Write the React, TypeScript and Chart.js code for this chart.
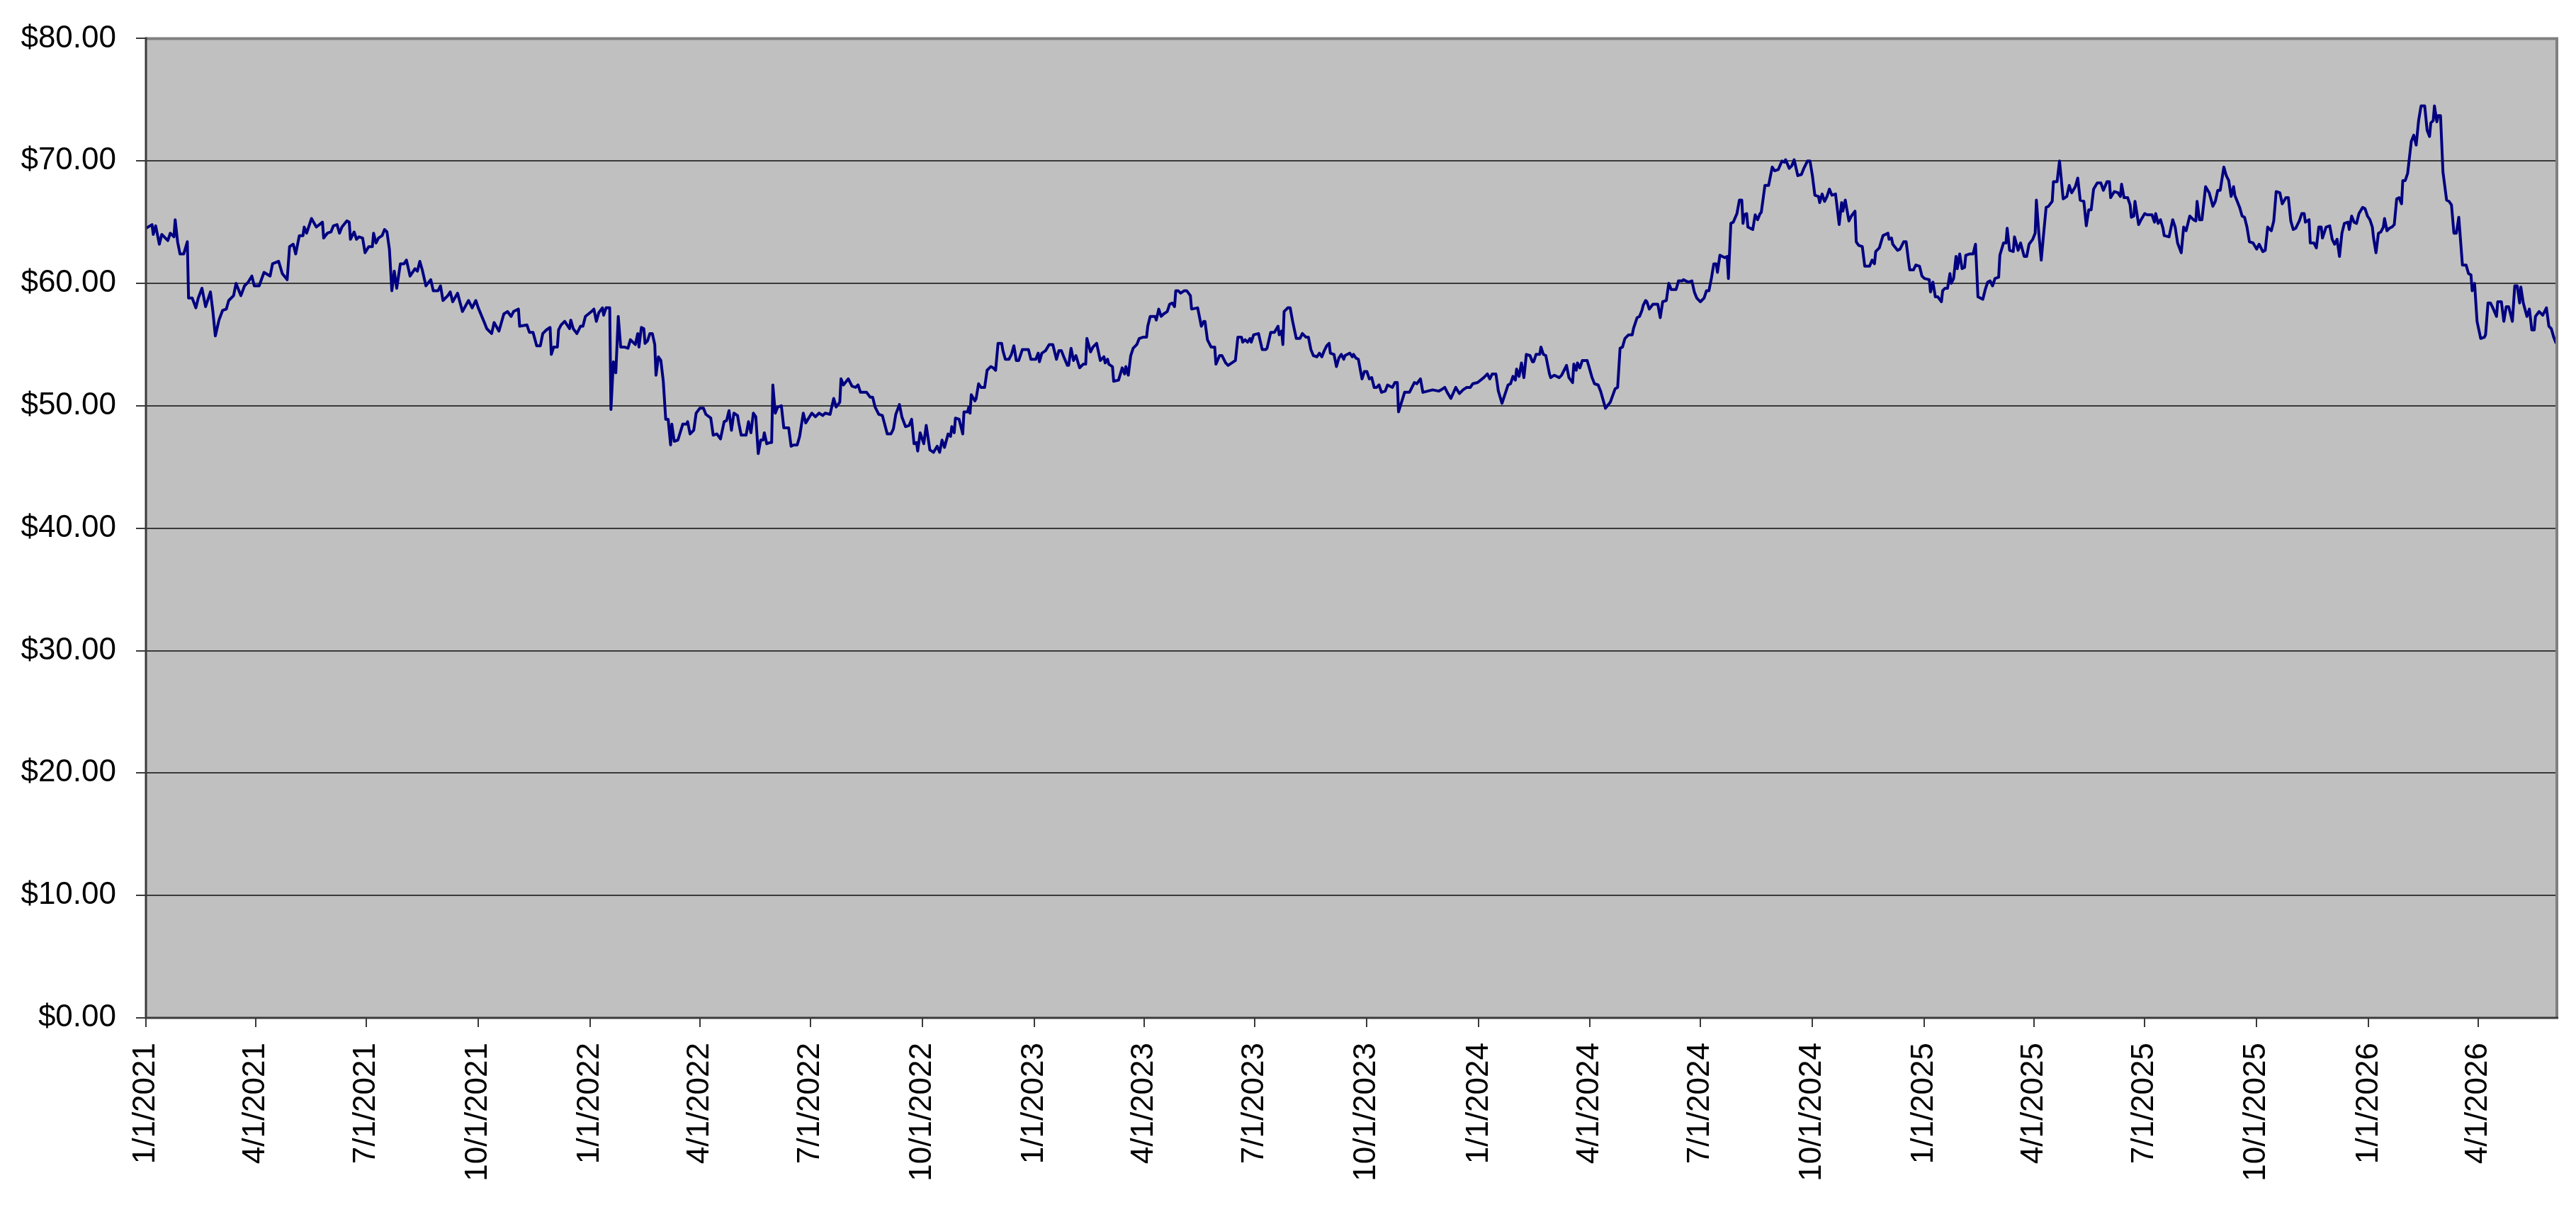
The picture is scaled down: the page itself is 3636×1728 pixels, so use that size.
import { useEffect, useRef } from "react";
import Chart from "chart.js/auto";

// x values are calendar days counted from 1/1/2021, y values are closing prices
const startDate = "1/1/2021";

const tickLabels = [
  "1/1/2021", "4/1/2021", "7/1/2021", "10/1/2021",
  "1/1/2022", "4/1/2022", "7/1/2022", "10/1/2022",
  "1/1/2023", "4/1/2023", "7/1/2023", "10/1/2023",
  "1/1/2024", "4/1/2024", "7/1/2024", "10/1/2024",
  "1/1/2025", "4/1/2025", "7/1/2025", "10/1/2025",
  "1/1/2026", "4/1/2026",
];

const lastDay = 1980;

const quotes2021: [number, number][] = [
  [0, 64.5], [5, 64.8], [6, 64.0], [8, 64.7], [11, 63.2], [13, 64.0], [18, 63.5], [20, 64.1],
  [23, 63.8], [24, 65.2], [26, 63.4], [28, 62.4], [31, 62.4], [34, 63.4], [35, 58.8], [38, 58.8],
  [41, 58.0], [43, 58.8], [46, 59.6], [49, 58.1], [53, 59.3], [55, 57.7], [57, 55.7], [60, 57.0],
  [63, 57.8], [66, 57.9], [68, 58.6], [72, 59.0], [74, 60.0], [78, 59.0], [81, 59.8], [84, 60.1],
  [87, 60.6], [89, 59.8], [93, 59.8], [97, 60.9], [102, 60.6], [104, 61.6], [109, 61.8], [112, 60.8],
  [116, 60.3], [118, 63.0], [121, 63.2], [123, 62.4], [126, 63.9], [129, 63.9], [130, 64.6], [132, 64.1],
  [134, 64.7], [136, 65.3], [140, 64.6], [145, 65.0], [146, 63.7], [149, 64.1], [152, 64.2], [154, 64.7],
  [157, 64.8], [159, 64.1], [161, 64.6], [165, 65.1], [167, 65.0], [168, 63.6], [171, 64.2], [173, 63.6],
  [175, 63.8], [178, 63.7], [180, 62.5], [183, 63.0], [186, 63.0], [187, 64.1], [189, 63.3], [191, 63.7],
  [194, 63.9], [196, 64.4], [198, 64.2], [200, 62.8], [202, 59.4], [204, 61.0], [206, 59.6], [209, 61.6],
  [212, 61.6], [214, 61.9], [217, 60.6], [221, 61.2], [223, 61.0], [225, 61.8], [227, 61.1], [230, 59.8],
  [234, 60.3], [236, 59.4], [240, 59.4], [242, 59.8], [244, 58.6], [248, 59.0], [250, 59.3], [252, 58.5],
  [256, 59.2], [260, 57.7], [265, 58.6], [268, 58.0], [271, 58.6], [273, 58.0], [278, 56.8], [280, 56.3],
  [284, 55.9], [286, 56.8], [290, 56.1], [294, 57.5], [297, 57.7], [300, 57.3], [302, 57.7], [306, 57.9],
  [307, 56.5], [313, 56.6], [315, 56.0], [318, 56.0], [321, 54.9], [324, 54.9], [326, 55.9], [329, 56.2],
  [332, 56.4], [333, 54.2], [335, 54.8], [338, 54.8], [339, 56.2], [341, 56.6], [344, 56.9], [348, 56.3],
  [349, 57.0], [351, 56.3], [354, 55.9], [357, 56.5], [359, 56.5], [361, 57.3],
];

const quotes2022: [number, number][] = [
  [366, 57.7], [368, 57.9], [370, 56.9], [372, 57.6], [375, 58.0], [376, 57.4], [378, 58.0], [381, 58.0],
  [382, 49.7], [384, 53.6], [386, 52.7], [388, 57.3], [390, 54.8], [393, 54.8], [396, 54.7], [398, 55.4],
  [402, 55.0], [404, 55.9], [405, 54.8], [407, 56.4], [409, 56.3], [410, 55.1], [412, 55.3], [414, 55.9],
  [416, 55.9], [418, 55.0], [419, 52.5], [421, 54.0], [423, 53.7], [425, 52.0], [427, 48.9], [429, 48.9],
  [431, 46.8], [432, 48.5], [434, 47.1], [437, 47.2], [441, 48.5], [444, 48.5], [445, 48.7], [447, 47.7],
  [450, 48.0], [452, 49.4], [455, 49.8], [458, 49.8], [460, 49.3], [464, 49.0], [466, 47.6], [469, 47.7],
  [472, 47.3], [475, 48.7], [477, 48.8], [479, 49.6], [481, 48.0], [483, 49.4], [486, 49.2], [487, 48.6],
  [489, 47.6], [493, 47.6], [495, 48.7], [497, 47.8], [499, 49.4], [501, 49.1], [503, 46.1], [505, 47.2],
  [507, 47.2], [508, 47.8], [510, 46.9], [513, 47.0], [514, 47.0], [515, 51.7], [517, 49.4], [519, 49.9],
  [522, 50.0], [524, 48.2], [528, 48.2], [530, 46.7], [532, 46.8], [535, 46.8], [537, 47.5], [540, 49.4],
  [542, 48.6], [547, 49.4], [550, 49.1], [553, 49.4], [556, 49.2], [558, 49.4], [562, 49.3], [565, 50.6],
  [567, 49.9], [570, 50.3], [571, 52.2], [573, 51.7], [577, 52.2], [580, 51.6], [583, 51.5], [585, 51.7],
  [587, 51.1], [592, 51.1], [595, 50.7], [597, 50.7], [599, 49.9], [602, 49.3], [605, 49.2], [609, 47.7],
  [612, 47.7], [614, 48.1], [616, 49.3], [619, 50.1], [621, 49.1], [624, 48.3], [627, 48.4], [629, 48.9],
  [631, 46.9], [633, 47.0], [634, 46.3], [636, 47.8], [639, 46.9], [641, 48.4], [644, 46.4], [647, 46.2],
  [650, 46.7], [652, 46.2], [654, 47.2], [656, 46.6], [659, 47.7], [661, 47.5], [662, 48.3], [664, 47.8],
  [665, 49.0], [668, 48.9], [671, 47.7], [672, 49.5], [675, 49.5], [676, 49.9], [677, 49.4], [678, 50.9],
  [681, 50.4], [682, 50.6], [684, 51.8], [686, 51.5], [689, 51.5], [691, 52.9], [694, 53.2], [696, 53.1],
  [698, 52.9], [700, 55.1], [703, 55.1], [704, 54.5], [706, 53.8], [709, 53.8], [711, 54.2], [713, 54.9],
  [715, 53.7], [717, 53.7], [720, 54.6], [722, 54.6], [725, 54.6], [727, 53.8],
];

const quotes2023: [number, number][] = [
  [731, 53.8], [733, 54.3], [734, 53.6], [736, 54.3], [739, 54.5], [742, 55.0], [745, 55.0], [748, 53.8],
  [750, 54.5], [752, 54.5], [754, 54.0], [757, 53.3], [758, 53.3], [760, 54.7], [762, 53.7], [764, 54.1],
  [767, 53.1], [770, 53.4], [772, 53.4], [773, 55.5], [776, 54.4], [778, 54.8], [781, 55.1], [784, 53.7],
  [787, 54.0], [788, 53.5], [790, 53.8], [791, 53.4], [794, 53.2], [795, 52.0], [799, 52.1], [802, 53.1],
  [804, 52.6], [805, 53.2], [807, 52.5], [809, 54.1], [811, 54.7], [814, 55.0], [816, 55.5], [819, 55.6],
  [822, 55.6], [823, 56.5], [825, 57.3], [829, 57.3], [830, 57.0], [832, 57.9], [834, 57.3], [836, 57.5],
  [839, 57.7], [841, 58.3], [843, 58.4], [845, 58.1], [846, 59.4], [848, 59.4], [850, 59.2], [853, 59.4],
  [855, 59.4], [858, 59.0], [859, 57.9], [864, 58.0], [867, 56.5], [869, 56.9], [870, 56.9], [872, 55.4],
  [875, 54.8], [878, 54.8], [879, 53.4], [882, 54.1], [884, 54.1], [887, 53.5], [889, 53.3], [892, 53.5],
  [895, 53.7], [897, 55.6], [900, 55.6], [901, 55.2], [903, 55.4], [905, 55.2], [907, 55.5], [908, 55.2],
  [910, 55.8], [914, 55.9], [917, 54.6], [920, 54.6], [921, 54.7], [924, 56.0], [927, 56.0], [930, 56.5],
  [931, 55.8], [933, 56.1], [934, 55.0], [935, 57.7], [938, 58.0], [940, 58.0], [942, 56.9], [945, 55.5],
  [948, 55.5], [950, 55.9], [953, 55.6], [955, 55.6], [957, 54.6], [959, 54.1], [962, 54.0], [964, 54.3],
  [966, 54.0], [968, 54.5], [970, 54.9], [972, 55.1], [973, 54.3], [976, 54.2], [978, 53.2], [980, 53.9],
  [982, 54.2], [984, 53.8], [985, 54.1], [989, 54.3], [991, 54.0], [992, 54.2], [994, 53.9], [996, 53.8],
  [999, 52.2], [1001, 52.8], [1003, 52.8], [1005, 52.2], [1007, 52.3], [1009, 51.5], [1011, 51.5], [1013, 51.7],
  [1015, 51.1], [1018, 51.2], [1020, 51.7], [1024, 51.5], [1026, 51.9], [1028, 51.9], [1029, 49.5], [1034, 51.1],
  [1038, 51.1], [1042, 51.9], [1044, 51.8], [1047, 52.2], [1049, 51.1], [1053, 51.2], [1057, 51.3], [1062, 51.2],
  [1064, 51.3], [1067, 51.5], [1069, 51.1], [1072, 50.6], [1076, 51.5], [1079, 51.0], [1082, 51.3], [1085, 51.5],
  [1088, 51.5], [1090, 51.8], [1094, 51.9],
];

const quotes2024: [number, number][] = [
  [1099, 52.3], [1102, 52.6], [1104, 52.2], [1106, 52.6], [1109, 52.6], [1111, 51.2], [1114, 50.2], [1119, 51.7],
  [1121, 51.8], [1123, 52.4], [1125, 52.1], [1126, 53.0], [1128, 52.4], [1130, 53.5], [1132, 52.3], [1134, 54.2],
  [1137, 54.1], [1139, 53.6], [1140, 53.6], [1142, 54.2], [1145, 54.2], [1146, 54.8], [1148, 54.2], [1150, 54.1],
  [1153, 52.6], [1154, 52.3], [1157, 52.5], [1161, 52.3], [1163, 52.5], [1165, 52.9], [1167, 53.3], [1169, 52.3],
  [1172, 51.9], [1173, 53.4], [1175, 52.9], [1176, 53.5], [1178, 53.1], [1180, 53.7], [1184, 53.7], [1188, 52.3],
  [1190, 51.8], [1193, 51.7], [1195, 51.2], [1199, 49.8], [1203, 50.3], [1207, 51.4], [1209, 51.5], [1211, 54.7],
  [1213, 54.8], [1215, 55.5], [1218, 55.8], [1221, 55.8], [1222, 56.3], [1225, 57.2], [1227, 57.3], [1229, 57.8],
  [1230, 58.2], [1232, 58.6], [1233, 58.5], [1235, 57.9], [1238, 58.3], [1242, 58.3], [1244, 57.2], [1246, 58.5],
  [1249, 58.6], [1251, 60.0], [1253, 59.5], [1257, 59.5], [1259, 60.2], [1262, 60.2], [1263, 60.3], [1267, 60.1],
  [1270, 60.2], [1272, 59.3], [1274, 58.8], [1277, 58.5], [1280, 58.8], [1282, 59.4], [1284, 59.4], [1286, 60.4],
  [1288, 61.6], [1290, 61.6], [1291, 60.9], [1293, 62.3], [1297, 62.1], [1299, 62.2], [1300, 60.4], [1302, 64.9],
  [1304, 65.0], [1307, 65.7], [1309, 66.8], [1311, 66.8], [1312, 64.9], [1313, 65.6], [1315, 65.7], [1316, 64.6],
  [1320, 64.4], [1322, 65.6], [1324, 65.2], [1326, 65.7], [1327, 65.8], [1330, 68.0], [1333, 68.0], [1336, 69.5],
  [1338, 69.2], [1341, 69.3], [1344, 70.0], [1346, 69.9], [1347, 70.1], [1350, 69.4], [1352, 69.6], [1354, 70.1],
  [1357, 68.8], [1360, 68.9], [1362, 69.4], [1365, 70.0], [1367, 70.0], [1369, 68.8], [1371, 67.2], [1374, 67.1],
  [1375, 66.6], [1377, 67.3], [1379, 66.7], [1381, 67.1], [1383, 67.7], [1385, 67.2], [1388, 67.3], [1391, 64.8],
  [1393, 66.6], [1394, 65.9], [1396, 66.8], [1399, 65.1], [1401, 65.5], [1404, 65.9], [1405, 63.4], [1407, 63.1],
  [1410, 63.0], [1412, 61.4], [1416, 61.4], [1418, 61.9], [1420, 61.6], [1421, 62.6], [1424, 62.9], [1427, 63.9],
  [1431, 64.1], [1432, 63.6], [1434, 63.7], [1435, 63.2], [1439, 62.7], [1441, 62.8], [1444, 63.4], [1446, 63.4],
  [1448, 61.8], [1449, 61.1], [1452, 61.1], [1454, 61.5], [1457, 61.4], [1459, 60.6],
];

const quotes2025: [number, number][] = [
  [1461, 60.4], [1465, 60.3], [1466, 59.3], [1468, 60.1], [1470, 58.9], [1472, 58.9], [1475, 58.5], [1476, 59.4],
  [1478, 59.6], [1480, 59.6], [1482, 60.8], [1483, 60.0], [1485, 60.4], [1487, 62.2], [1488, 61.2], [1490, 62.4],
  [1492, 61.2], [1494, 61.3], [1495, 62.3], [1498, 62.4], [1501, 62.4], [1503, 63.2], [1505, 58.9], [1509, 58.7],
  [1511, 59.5], [1513, 60.1], [1515, 60.2], [1517, 59.8], [1519, 60.4], [1522, 60.5], [1523, 62.3], [1526, 63.3],
  [1528, 63.3], [1529, 64.5], [1531, 62.7], [1534, 62.6], [1535, 63.8], [1538, 62.7], [1540, 63.3], [1543, 62.2],
  [1545, 62.2], [1547, 63.2], [1550, 63.6], [1552, 64.1], [1553, 66.8], [1555, 64.1], [1557, 61.9], [1559, 64.1],
  [1561, 66.2], [1563, 66.3], [1566, 66.7], [1567, 68.3], [1570, 68.3], [1572, 70.0], [1575, 66.9], [1578, 67.1],
  [1580, 68.0], [1582, 67.4], [1585, 67.9], [1587, 68.6], [1589, 66.8], [1592, 66.7], [1594, 64.7], [1596, 66.0],
  [1598, 66.0], [1600, 67.7], [1603, 68.2], [1606, 68.2], [1608, 67.6], [1611, 68.3], [1613, 68.3], [1614, 67.0],
  [1617, 67.5], [1620, 67.4], [1622, 67.1], [1623, 68.1], [1625, 67.0], [1628, 67.0], [1630, 66.4], [1631, 65.4],
  [1633, 65.5], [1634, 66.7], [1637, 64.8], [1639, 65.2], [1642, 65.7], [1644, 65.6], [1648, 65.6], [1650, 65.0],
  [1651, 65.7], [1653, 64.9], [1655, 65.2], [1657, 64.5], [1658, 63.9], [1662, 63.8], [1665, 65.2], [1667, 64.6],
  [1669, 63.3], [1672, 62.5], [1674, 64.6], [1676, 64.3], [1679, 65.5], [1682, 65.2], [1684, 65.1], [1685, 66.7],
  [1687, 65.2], [1689, 65.2], [1692, 67.9], [1695, 67.4], [1698, 66.3], [1700, 66.7], [1702, 67.6], [1704, 67.6],
  [1707, 69.5], [1709, 68.8], [1711, 68.4], [1713, 67.1], [1715, 67.9], [1716, 67.2], [1718, 66.7], [1720, 66.2],
  [1722, 65.5], [1724, 65.4], [1726, 64.6], [1728, 63.4], [1731, 63.3], [1734, 62.8], [1736, 63.2], [1739, 62.6],
  [1741, 62.7], [1743, 64.6], [1746, 64.3], [1748, 65.1], [1750, 67.5], [1753, 67.4], [1755, 66.5], [1758, 67.0],
  [1760, 67.0], [1762, 65.1], [1764, 64.4], [1766, 64.5], [1769, 65.1], [1771, 65.7], [1773, 65.7], [1774, 65.0],
  [1777, 65.2], [1778, 63.3], [1781, 63.3], [1783, 62.9], [1785, 64.6], [1787, 64.6], [1788, 63.7], [1791, 64.6],
  [1794, 64.7], [1796, 63.6], [1798, 63.2], [1800, 63.6], [1802, 62.2], [1804, 64.1], [1806, 64.9], [1809, 65.0],
  [1810, 64.4], [1812, 65.5], [1814, 65.0], [1816, 64.9], [1818, 65.7], [1821, 66.2], [1823, 66.1], [1825, 65.5],
];

const quotes2026: [number, number][] = [
  [1827, 65.2], [1829, 64.6], [1830, 63.7], [1832, 62.5], [1834, 64.1], [1836, 64.2], [1838, 64.6], [1839, 65.3],
  [1841, 64.3], [1843, 64.5], [1845, 64.6], [1847, 64.8], [1849, 66.9], [1851, 67.0], [1853, 66.5], [1854, 68.4],
  [1856, 68.4], [1858, 69.0], [1861, 71.6], [1863, 72.1], [1865, 71.3], [1867, 73.3], [1869, 74.5], [1872, 74.5],
  [1874, 72.5], [1876, 72.0], [1877, 73.1], [1879, 73.3], [1880, 74.5], [1882, 73.2], [1883, 73.7], [1885, 73.7],
  [1887, 69.1], [1890, 66.8], [1892, 66.7], [1894, 66.4], [1896, 64.1], [1898, 64.1], [1900, 65.4], [1903, 61.5],
  [1906, 61.5], [1908, 60.8], [1910, 60.7], [1911, 59.4], [1913, 60.0], [1915, 56.9], [1918, 55.5], [1921, 55.6],
  [1922, 55.8], [1924, 58.4], [1926, 58.4], [1928, 58.0], [1931, 57.3], [1932, 58.5], [1935, 58.5], [1937, 56.9],
  [1939, 58.1], [1941, 58.1], [1944, 56.9], [1946, 59.8], [1948, 59.8], [1950, 58.4], [1951, 59.7], [1953, 58.4],
  [1956, 57.3], [1958, 57.9], [1960, 56.2], [1962, 56.2], [1963, 57.3], [1966, 57.7], [1969, 57.4], [1972, 58.0],
  [1974, 56.5], [1976, 56.3], [1978, 55.6], [1980, 55.1],
];

const dayOf = (label: string) => {
  const [m, d, y] = label.split("/").map(Number);
  const [m0, d0, y0] = startDate.split("/").map(Number);
  return Math.round((Date.UTC(y, m - 1, d) - Date.UTC(y0, m0 - 1, d0)) / 86400000);
};

const tickDays = tickLabels.map(dayOf);

const plotFrame = {
  id: "plotFrame",
  beforeDraw(chart: any) {
    const { ctx, chartArea: a } = chart;
    ctx.save();
    ctx.fillStyle = "#c0c0c0";
    ctx.fillRect(a.left, a.top, a.right - a.left, a.bottom - a.top);
    ctx.restore();
  },
  afterDraw(chart: any) {
    const { ctx, chartArea: a } = chart;
    ctx.save();
    ctx.strokeStyle = "#808080";
    ctx.lineWidth = 4;
    ctx.beginPath();
    ctx.moveTo(a.left, a.top);
    ctx.lineTo(a.right + 1, a.top);
    ctx.lineTo(a.right + 1, a.bottom);
    ctx.stroke();
    ctx.strokeStyle = "#3a3a3a";
    ctx.lineWidth = 3;
    ctx.beginPath();
    ctx.moveTo(a.left, a.top - 2);
    ctx.lineTo(a.left, a.bottom);
    ctx.lineTo(a.right + 3, a.bottom);
    ctx.stroke();
    ctx.restore();
  },
};

const PriceChart = () => {
  const canvasRef = useRef<HTMLCanvasElement | null>(null);

  useEffect(() => {
    const points = [quotes2021, quotes2022, quotes2023, quotes2024, quotes2025, quotes2026]
      .flat()
      .map(([x, y]) => ({ x, y }));

    const font = { family: "'Liberation Sans', Arial, sans-serif", size: 44 };

    const chart = new Chart(canvasRef.current!, {
      type: "line",
      data: {
        datasets: [{
          data: points,
          borderColor: "#000080",
          borderWidth: 4,
          borderJoinStyle: "round",
          pointRadius: 0,
          tension: 0,
          fill: false,
        }],
      },
      options: {
        animation: false,
        responsive: true,
        maintainAspectRatio: false,
        layout: { padding: { top: 44, right: 28, left: 0, bottom: 0 } },
        plugins: { legend: { display: false }, tooltip: { enabled: false } },
        scales: {
          x: {
            type: "linear",
            min: 0,
            max: lastDay,
            afterBuildTicks: (scale: any) => {
              scale.ticks = tickDays.map((value) => ({ value }));
            },
            afterFit: (scale: any) => { scale.height = 291; },
            grid: {
              drawOnChartArea: false,
              drawTicks: true,
              tickLength: 13,
              color: "#3a3a3a",
              lineWidth: 2,
            },
            border: { display: false },
            ticks: {
              autoSkip: false,
              minRotation: 90,
              maxRotation: 90,
              padding: 22,
              color: "#000000",
              font,
              callback: (_v: any, i: number) => tickLabels[i],
            },
          },
          y: {
            min: 0,
            max: 80,
            afterFit: (scale: any) => { scale.width = 206; },
            grid: {
              color: "#3a3a3a",
              lineWidth: 2,
              tickLength: 14,
            },
            border: { display: false },
            ticks: {
              stepSize: 10,
              padding: 28,
              color: "#000000",
              font,
              callback: (v: any) => "$" + Number(v).toFixed(2),
            },
          },
        },
      },
      plugins: [plotFrame],
    });

    return () => chart.destroy();
  }, []);

  return (
    <div style={{ position: "absolute", left: 0, top: 0, width: "3636px", height: "1728px", background: "#ffffff" }}>
      <canvas ref={canvasRef} />
    </div>
  );
};

export default function App() {
  return <PriceChart />;
}
